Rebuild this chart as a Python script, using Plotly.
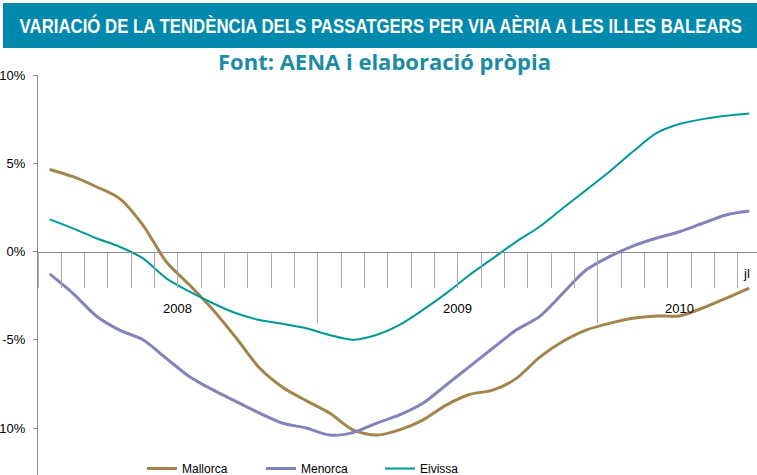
import plotly.graph_objects as go

# Month index: 0 = Jan 2008 ... 30 = Jul 2010
months = list(range(31))
years = ["2008", "2009", "2010"]
year_centers = [5.5, 17.5, 27.0]
last_label = "jl"

mallorca = [4.65, 4.24, 3.67, 3.0, 1.5, -0.58, -1.9, -3.3, -4.9, -6.6,
            -7.7, -8.45, -9.15, -10.1, -10.4, -10.1, -9.55, -8.7, -8.1, -7.85,
            -7.2, -6.0, -5.1, -4.45, -4.07, -3.78, -3.65, -3.65, -3.2, -2.65, -2.08]
menorca = [-1.27, -2.37, -3.65, -4.45, -5.0, -6.05, -7.09, -7.84, -8.5, -9.16,
           -9.73, -10.0, -10.4, -10.26, -9.73, -9.26, -8.6, -7.56, -6.52, -5.48,
           -4.45, -3.69, -2.37, -1.05, -0.29, 0.31, 0.75, 1.12, 1.6, 2.07, 2.29]
eivissa = [1.82, 1.31, 0.75, 0.27, -0.39, -1.52, -2.27, -2.93, -3.5, -3.88,
           -4.1, -4.35, -4.73, -5.0, -4.73, -4.16, -3.31, -2.37, -1.33, -0.39,
           0.55, 1.4, 2.45, 3.48, 4.52, 5.65, 6.69, 7.22, 7.5, 7.69, 7.82]

y_ticks = [-10, -5, 0, 5, 10]
y_ticktext = ["-10%", "-5%", "0%", "5%", "10%"]

W, H = 757, 475
ML, MT = 38, 75
YMIN, YMAX = -12.66, 10
XMIN, XMAX = -0.5, 30.33

fig = go.Figure()
series = [("Mallorca", mallorca, "#A3854B", 3),
          ("Menorca", menorca, "#8383B9", 3),
          ("Eivissa", eivissa, "#00999A", 2)]
for name, vals, col, w in series:
    fig.add_trace(go.Scatter(x=months, y=vals, name=name, mode="lines",
                             line=dict(color=col, width=w, shape="spline", smoothing=0.8)))

zero_pos = (0 - YMIN) / (YMAX - YMIN)

fig.update_layout(
    width=W, height=H,
    margin=dict(l=ML, r=0, t=MT, b=0, pad=0, autoexpand=False),
    plot_bgcolor="white", paper_bgcolor="white",
    font=dict(family="Liberation Sans, Arial, sans-serif", size=13, color="black"),
    showlegend=True,
    legend=dict(orientation="h", x=(142 - ML) / (W - ML), y=-0.02, yanchor="bottom", xanchor="left",
                entrywidth=74, entrywidthmode="pixels", itemwidth=30,
                font=dict(size=12), bgcolor="rgba(0,0,0,0)", tracegroupgap=0),
    xaxis=dict(range=[XMIN, XMAX], anchor="free", position=zero_pos, automargin=False,
               showline=True, linecolor="#8C8C8C", linewidth=1,
               showgrid=False, zeroline=False,
               tickvals=[11.5, 23.5], ticks="outside", ticklen=70, tickwidth=1,
               tickcolor="#AAAAAA", showticklabels=False,
               minor=dict(ticks="outside", ticklen=35, tick0=0.5, dtick=1,
                          tickcolor="#AAAAAA", tickwidth=1, showgrid=False)),
    yaxis=dict(range=[YMIN, YMAX], showline=True, linecolor="#8C8C8C", linewidth=1,
               automargin=False,
               showgrid=False, zeroline=False, tickvals=y_ticks, ticktext=y_ticktext,
               ticks="outside", ticklen=4, tickcolor="#8C8C8C", ticklabelstandoff=5,
               tickfont=dict(size=13)),
)

def px_to_paper_x(px):
    return (px - ML) / (W - ML)

def py_to_paper_y(py):
    return (H - py) / (H - MT)

# Title banner
fig.add_shape(type="rect", xref="paper", yref="paper",
              x0=px_to_paper_x(3), x1=px_to_paper_x(762),
              y0=py_to_paper_y(48), y1=py_to_paper_y(3),
              fillcolor="#0089AD", line=dict(width=0), layer="below")
fig.add_annotation(xref="paper", yref="paper", x=px_to_paper_x(380.5), y=py_to_paper_y(26),
                   text="<b>VARIACIÓ DE LA TENDÈNCIA DELS PASSATGERS PER VIA AÈRIA A LES ILLES BALEARS</b>",
                   showarrow=False, xanchor="center", yanchor="middle",
                   font=dict(family="Liberation Sans Narrow, Liberation Sans, sans-serif", size=21, color="white"))
fig.add_annotation(xref="paper", yref="paper", x=px_to_paper_x(384), y=py_to_paper_y(61),
                   text="<b>Font: AENA i elaboració pròpia</b>",
                   showarrow=False, xanchor="center", yanchor="middle",
                   font=dict(family="Open Sans, sans-serif", size=22, color="#1B8BA6"))

# Category labels (years and last month)
for yr, xc in zip(years, year_centers):
    fig.add_annotation(x=xc, y=-3.2, text=yr, showarrow=False,
                       xanchor="center", yanchor="middle", font=dict(size=13))
fig.add_annotation(x=months[-1] - 0.1, y=-1.22, text=last_label, showarrow=False,
                   xanchor="center", yanchor="middle", font=dict(size=13))

# Condense the banner title horizontally to the reference's narrow width
post = """
document.body.style.margin='0';
var gd = document.getElementById('{plot_id}');
function squeeze(){
  var els = gd.querySelectorAll('.annotation-text');
  els.forEach(function(el){
    if (el.textContent.indexOf('VARIACI') === 0) {
      el.removeAttribute('transform');
      var b = el.getBBox();
      var s = 723 / b.width;
      if (s < 1) {
        var cx = b.x + b.width / 2;
        el.setAttribute('transform', 'translate(' + cx + ',0) scale(' + s + ',1) translate(' + (-cx) + ',0)');
      }
    }
  });
}
squeeze();
gd.on('plotly_afterplot', squeeze);
"""

fig.write_html("out.html", post_script=post, config={"displayModeBar": False})
